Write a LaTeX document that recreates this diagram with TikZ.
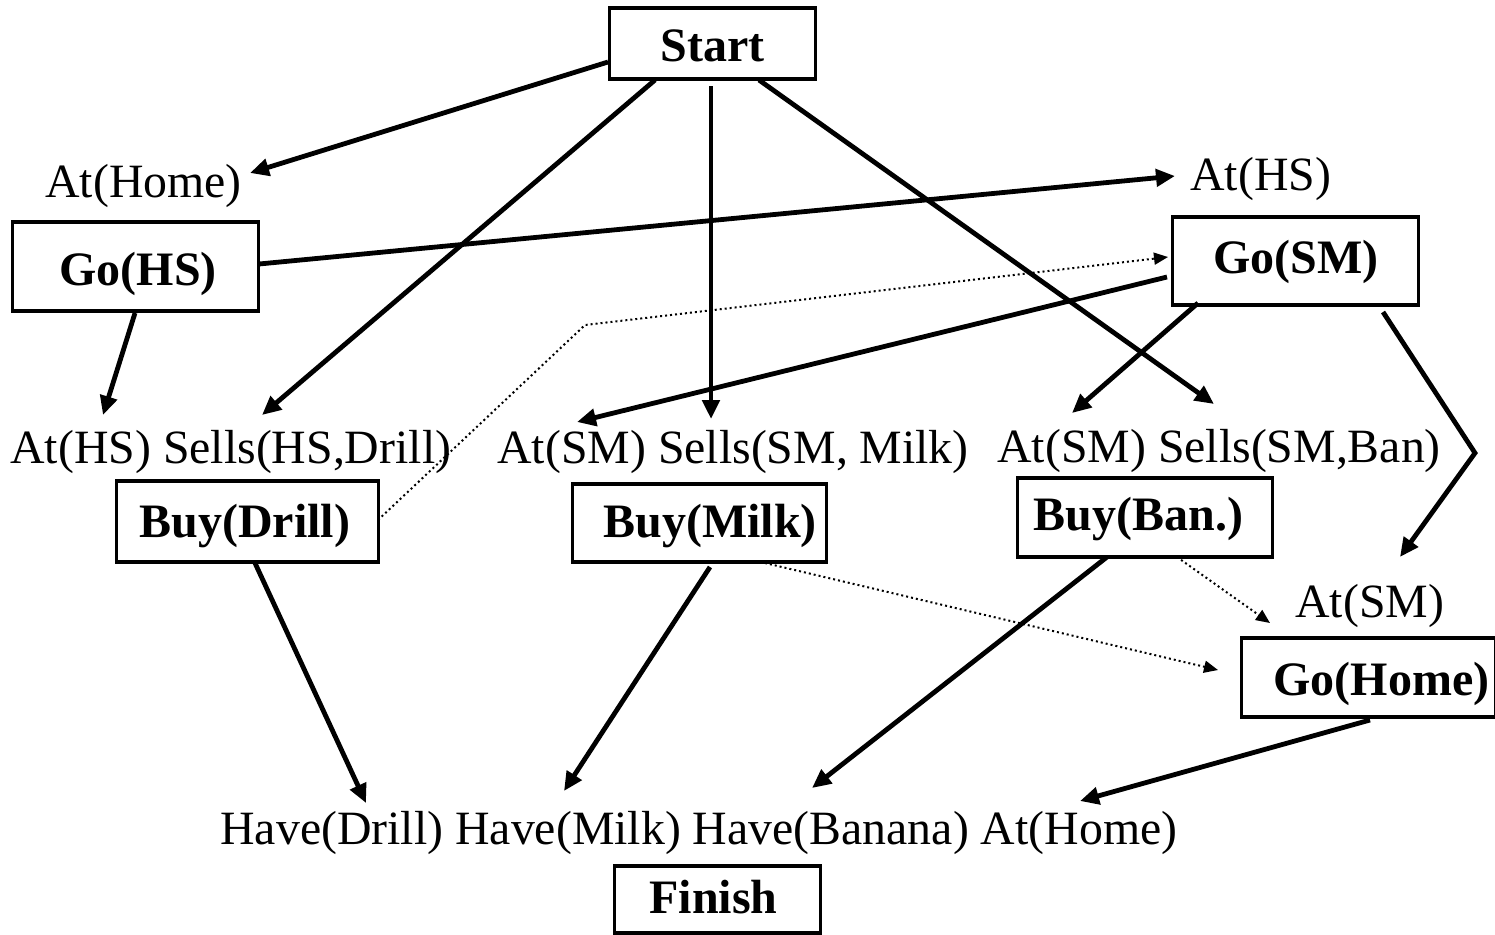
\documentclass[tikz,border=0pt]{standalone}
\usepackage{fontspec}
\setmainfont{Liberation Serif}
\usetikzlibrary{arrows.meta,calc}
% action box content: fixed width, left padding, label
\newcommand\actbox[3]{\makebox[#1][l]{\hspace*{#2}#3}}
\begin{document}
\begin{tikzpicture}[x=0.5pt,y=-0.5pt,
  lit/.style={anchor=base west, inner sep=0pt, font=\fontsize{23.9}{28}\selectfont},
  act/.style={draw, line width=1.6pt, anchor=base west, inner sep=0pt,
              font=\fontsize{24}{28}\selectfont\bfseries},
  link/.style={line width=2.4pt, -{Triangle[length=9.5pt,width=8.5pt]}},
  order/.style={line width=1pt, dash pattern=on 1pt off 1.5pt,
                -{Triangle[length=7pt,width=6pt]}}]
\useasboundingbox (0,0) rectangle (1495,934);

% actions
\node[act, text height=26.5pt, text depth=9pt]    (start)  at (608,61)  {\actbox{103pt}{25.5pt}{Start}};
\node[act, text height=31.5pt, text depth=13pt]   (gohs)   at (11,285)  {\actbox{123pt}{23.5pt}{Go(HS)}};
\node[act, text height=28pt, text depth=16pt]     (gosm)   at (1171,273){\actbox{123pt}{20.5pt}{Go(SM)}};
\node[act, text height=28pt, text depth=12.5pt]   (buyd)   at (115,537) {\actbox{131pt}{11.5pt}{Buy(Drill)}};
\node[act, text height=26.5pt, text depth=12.5pt] (buym)   at (571,537) {\actbox{127pt}{15.5pt}{Buy(Milk)}};
\node[act, text height=26pt, text depth=13.5pt]   (buyb)   at (1016,530){\actbox{127.5pt}{8pt}{Buy(Ban.)}};
\node[act, text height=28.5pt, text depth=11pt]   (gohome) at (1240,695){\actbox{127pt}{16pt}{Go(Home)}};
\node[act, text height=23.5pt, text depth=10pt]   (finish) at (613,913) {\actbox{103pt}{17.5pt}{Finish}};

% literals
\node[lit] (athome) at (45,197)   {At(Home)};
\node[lit] (aths)   at (1190,190) {At(HS)};
\node[lit] (pre1)   at (10,463)   {At(HS) Sells(HS,Drill)};
\node[lit] (pre2)   at (497,463)  {At(SM) Sells(SM, Milk)};
\node[lit] (pre3)   at (997,462)  {At(SM) Sells(SM,Ban)};
\node[lit] (atsm)   at (1295,617) {At(SM)};
\node[lit] (goal)   at (220,844)  {Have(Drill) Have(Milk) Have(Banana) At(Home)};

% causal links
\draw[link] ($(start.base west)+(0,1)$)    -- ($(athome.base west)+(205,-24)$);
\draw[link] ($(start.base west)+(47,19)$)  -- ($(pre1.base west)+(252,-48)$);
\draw[link] ($(start.base west)+(103,25)$) -- ($(pre2.base west)+(214,-44)$);
\draw[link] ($(start.base west)+(151,19)$) -- ($(pre3.base west)+(217,-58)$);
\draw[link] ($(gohs.base west)+(248,-21)$) -- ($(aths.base west)+(-15,-14)$);
\draw[link] ($(gohs.base west)+(124,28)$)  -- ($(pre1.base west)+(93,-48)$);
\draw[link] ($(gosm.base west)+(-4,4)$)    -- ($(pre2.base west)+(80,-41)$);
\draw[link] ($(gosm.base west)+(27,30)$)   -- ($(pre3.base west)+(75,-49)$);
\draw[link] ($(gosm.base west)+(212,39)$)  -- ($(gosm.base west)+(304,180)$)
                                           -- ($(atsm.base west)+(105,-60)$);
\draw[link] ($(buyd.base west)+(140,26)$)  -- ($(goal.base west)+(146,-41)$);
\draw[link] ($(buym.base west)+(139,30)$)  -- ($(goal.base west)+(344,-53)$);
\draw[link] ($(buyb.base west)+(91,27)$)   -- ($(goal.base west)+(592,-56)$);
\draw[link] ($(gohome.base west)+(130,25)$) -- ($(goal.base west)+(860,-43)$);

% ordering constraints
\draw[order] ($(buyd.base west)+(263,-17)$) -- ($(buyd.base west)+(470,-212)$)
                                            -- ($(gosm.base west)+(-3,-16)$);
\draw[order] ($(buym.base west)+(194,26)$)  -- ($(gohome.base west)+(-22,-25)$);
\draw[order] ($(buyb.base west)+(161,27)$)  -- ($(atsm.base west)+(-25,6)$);
\end{tikzpicture}
\end{document}
